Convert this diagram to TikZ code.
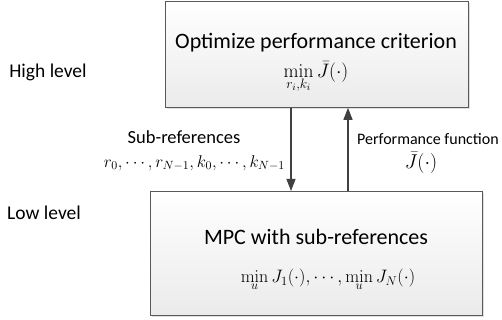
\RequirePackage{fix-cm}
\documentclass[tikz,border=0pt]{standalone}
\usepackage[no-math]{fontspec}
\setmainfont{Carlito}
\usetikzlibrary{arrows.meta,shadows}
\begin{document}
\begin{tikzpicture}[x=1pt,y=-1pt,
  box/.style={draw=black!65, line width=0.8pt, top color=white, bottom color=black!8,
    drop shadow={opacity=0.25, shadow xshift=1.5pt, shadow yshift=-1.5pt}},
  lbl/.style={font=\fontsize{17}{20}\selectfont, inner sep=0pt},
  big/.style={font=\fontsize{22}{26}\selectfont, inner sep=0pt},
  side/.style={font=\fontsize{19.5}{23}\selectfont, inner sep=0pt},
  arr/.style={draw=black!75, line width=1.2pt, -{Triangle[length=12pt,width=9pt]}}]
\useasboundingbox (0,0) rectangle (502,320);
\node[box, minimum width=303pt, minimum height=106pt, anchor=north west] (top) at (165,1) {};
\node[box, minimum width=332pt, minimum height=124pt, anchor=north west] (bot) at (150,191) {};
\node[big] (t1) at (316,43) {Optimize performance criterion};
\node[lbl, font=\fontsize{19.5}{23}\selectfont] (t2) at (316,77) {$\displaystyle\min_{r_i,k_i}\bar{J}(\cdot)$};
\node[side] (hl) at (48,72) {High level};
\node[side] (ll) at (44,213) {Low level};
\node[lbl, font=\fontsize{18.5}{22}\selectfont] (sr) at (184,137) {Sub-references};
\node[lbl, anchor=east] (sm) at (285,163) {$r_0,\cdots,r_{N-1},k_0,\cdots,k_{N-1}$};
\node[lbl, font=\fontsize{16}{19}\selectfont, anchor=west] (pf) at (357,139) {Performance function};
\node[lbl, font=\fontsize{20}{24}\selectfont] (pj) at (421,163) {$\bar{J}(\cdot)$};
\node[big] (b1) at (316,237) {MPC with sub-references};
\node[lbl, font=\fontsize{18}{21}\selectfont] (b2) at (328,280) {$\displaystyle\min_u J_1(\cdot),\cdots,\min_u J_N(\cdot)$};
\coordinate (dx) at (291,0);
\coordinate (ux) at (348,0);
\draw[arr] (top.south -| dx) -- (bot.north -| dx);
\draw[arr] (bot.north -| ux) -- (top.south -| ux);
\end{tikzpicture}
\end{document}
